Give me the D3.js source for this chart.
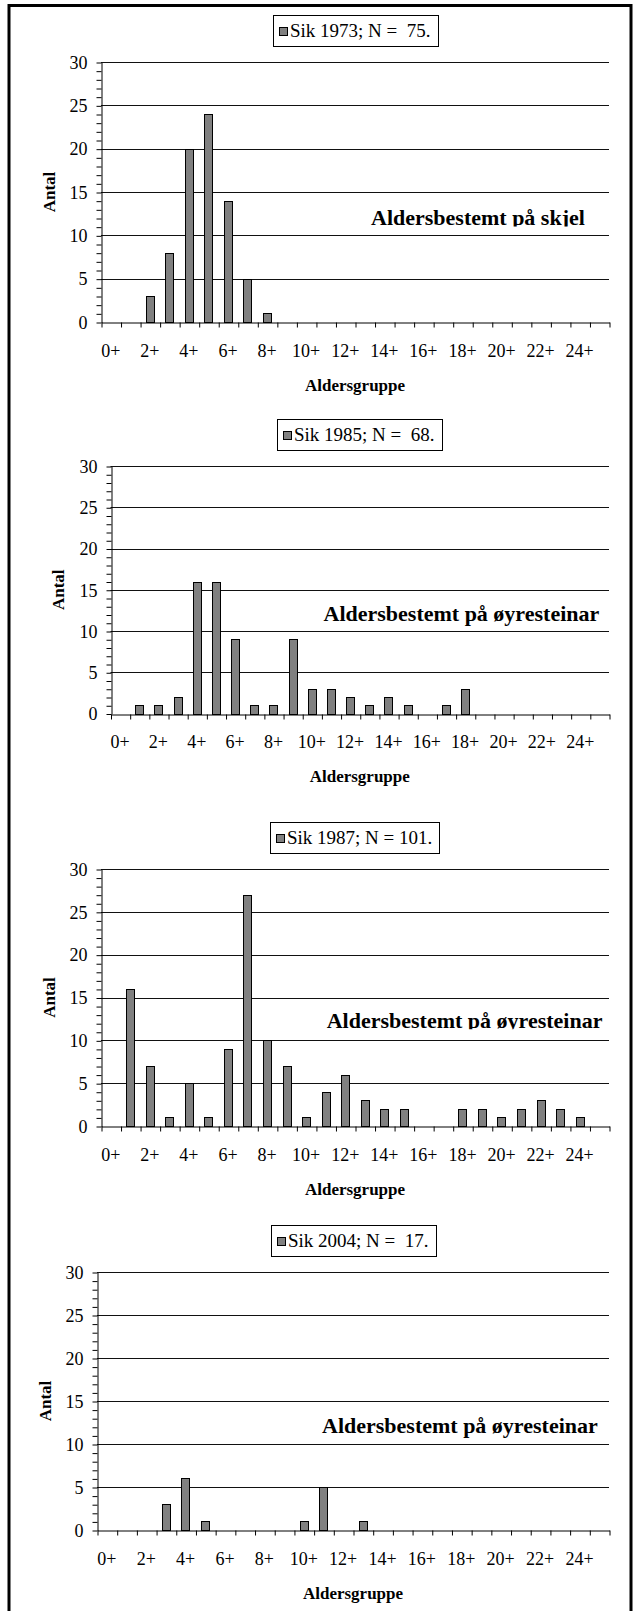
<!DOCTYPE html>
<html><head><meta charset="utf-8">
<script src="https://cdn.jsdelivr.net/npm/d3@7"></script>
<style>
body{margin:0;background:#fff}
svg{display:block}
text{font-family:"Liberation Serif","Times New Roman",serif;fill:#000}
</style>
</head><body><svg id="c" width="634" height="1611"></svg>
<script>
// ---- data ----
const categories = ["0+","1+","2+","3+","4+","5+","6+","7+","8+","9+","10+","11+","12+","13+","14+","15+","16+","17+","18+","19+","20+","21+","22+","23+","24+","25+"];
const xTickLabels = ["0+","2+","4+","6+","8+","10+","12+","14+","16+","18+","20+","22+","24+"];
const yTickLabels = [0,5,10,15,20,25,30];
const legendLabels = ["Sik 1973; N =  75.","Sik 1985; N =  68.","Sik 1987; N = 101.","Sik 2004; N =  17."];
const noteLabels = ["Aldersbestemt på skjel","Aldersbestemt på øyresteinar","Aldersbestemt på øyresteinar","Aldersbestemt på øyresteinar"];
const xTitle = "Aldersgruppe";
const yTitle = "Antal";
const values1973 = [0,0,3,8,20,24,14,5,1,0,0,0,0,0,0,0,0,0,0,0,0,0,0,0,0,0];
const values1985 = [0,1,1,2,16,16,9,1,1,9,3,3,2,1,2,1,0,1,3,0,0,0,0,0,0,0];
const values1987 = [0,16,7,1,5,1,9,27,10,7,1,4,6,3,2,2,0,0,2,2,1,2,3,2,1,0];
const values2004 = [0,0,0,3,6,1,0,0,0,0,1,5,0,1,0,0,0,0,0,0,0,0,0,0,0,0];
const seriesList = [values1973, values1985, values1987, values2004];

// ---- layout (positions only) ----
const layouts = [
  {left:101, right:609, top:62,  bottom:322,  noteX:371, noteY:225,  clip:true},
  {left:110.5, right:609, top:466, bottom:713.5, noteX:323.5, noteY:621, clip:false},
  {left:101, right:609, top:869, bottom:1126, noteX:326.7, noteY:1027.7, clip:true},
  {left:97,  right:609, top:1272, bottom:1530, noteX:322, noteY:1433, clip:false}
];

const svg = d3.select("#c");
const defs = svg.append("defs");

seriesList.forEach((vals, k) => {
  const L = layouts[k];
  const g = svg.append("g");
  const y = d3.scaleLinear().domain([0,30]).range([L.bottom, L.top]);
  const xb = d3.scaleBand().domain(categories).range([L.left, L.right]).paddingInner(0.58).paddingOuter(0.29);
  const xl = d3.scaleLinear().domain([0, categories.length]).range([L.left, L.right]);

  // gridlines
  g.append("g").selectAll("line").data(yTickLabels.filter(v => v > 0)).join("line")
    .attr("x1", L.left).attr("x2", L.right)
    .attr("y1", d => Math.round(y(d)) + 0.5).attr("y2", d => Math.round(y(d)) + 0.5)
    .attr("stroke", "#111").attr("stroke-width", 1);

  // bars
  g.append("g").selectAll("rect").data(vals.map((v,i)=>({c:categories[i], v}))).join("rect")
    .filter(d => d.v > 0)
    .attr("x", d => Math.round(xb(d.c)) + 0.5)
    .attr("y", d => Math.round(y(d.v)) + 0.5)
    .attr("width", Math.round(xb.bandwidth()))
    .attr("height", d => Math.round(y(0)) - Math.round(y(d.v)))
    .attr("fill", "#808080").attr("stroke", "#000").attr("stroke-width", 1);

  // y axis
  const ya = g.append("g").attr("transform", `translate(${Math.round(L.left)+0.5},0.5)`)
    .call(d3.axisLeft(y).tickValues(d3.range(0,31)).tickSize(5).tickSizeOuter(0).tickPadding(9)
      .tickFormat(d => yTickLabels.includes(d) ? d : ""));
  ya.selectAll("text").attr("font-size", 18).style("font-family", '"Liberation Serif",serif');
  ya.selectAll("line,path").attr("stroke", "#000");

  // x axis (boundary ticks)
  const xa = g.append("g").attr("transform", `translate(0.5,${Math.round(L.bottom)+0.5})`)
    .call(d3.axisBottom(xl).tickValues(d3.range(0, categories.length + 1)).tickSize(5).tickSizeOuter(0).tickFormat(""));
  xa.selectAll("line,path").attr("stroke", "#000");

  // x labels
  const xt = g.append("g").attr("transform", `translate(0,${L.bottom})`)
    .call(d3.axisBottom(xb).tickValues(xTickLabels).tickSize(0).tickPadding(22));
  xt.select(".domain").remove();
  xt.selectAll("text").attr("font-size", 18).style("font-family", '"Liberation Serif",serif');

  // axis titles
  g.append("text").attr("transform", `translate(${L.left-52},${(L.top+L.bottom)/2}) rotate(-90)`)
    .attr("text-anchor","middle").attr("dominant-baseline","central")
    .attr("font-size",17).attr("font-weight","bold").text(yTitle);
  g.append("text").attr("x",(L.left+L.right)/2).attr("y",L.bottom+63)
    .attr("text-anchor","middle").attr("dominant-baseline","central")
    .attr("font-size",17).attr("font-weight","bold").text(xTitle);

  // legend
  const lg = g.append("g");
  const boxTop = L.top - 47.5;
  const lt = lg.append("text").attr("font-size",19).style("white-space","pre").text(legendLabels[k]);
  const tw = lt.node().getComputedTextLength();
  const bw = 6 + 9 + 2 + tw + 7;
  const bx = Math.round((L.left + L.right)/2 - bw/2);
  lg.insert("rect","text").attr("x", bx + 0.5).attr("y", Math.round(boxTop)+0.5).attr("width", Math.round(bw)).attr("height", 31)
    .attr("fill","#fff").attr("stroke","#000");
  lg.append("rect").attr("x", bx + 6.5).attr("y", Math.round(boxTop) + 12.5).attr("width", 8).attr("height", 8)
    .attr("fill","#808080").attr("stroke","#000");
  lt.attr("x", bx + 17).attr("y", boxTop + 22.7);

  // note
  const note = g.append("text").attr("x", L.noteX).attr("y", L.noteY)
    .attr("font-size",22).attr("font-weight","bold").text(noteLabels[k]);
  if (L.clip) {
    const id = "clip" + k;
    defs.append("clipPath").attr("id", id).append("rect")
      .attr("x", L.noteX - 5).attr("y", L.noteY - 30).attr("width", 300).attr("height", 31.5);
    note.attr("clip-path", `url(#${id})`);
  }
});

// outer border
svg.append("rect").attr("x",9).attr("y",5.5).attr("width",622).attr("height",1640)
  .attr("fill","none").attr("stroke","#000").attr("stroke-width",3);
</script>
</body></html>
